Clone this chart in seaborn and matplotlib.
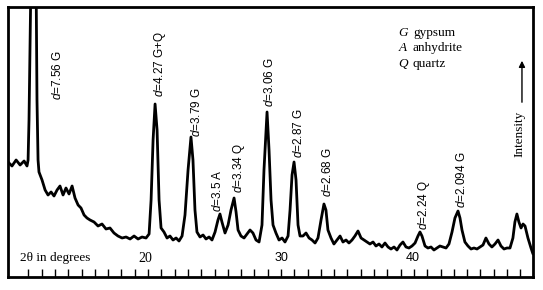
import matplotlib
matplotlib.use("Agg")
import matplotlib.pyplot as plt
import seaborn as sns
import pandas as pd

# 2-theta (degrees) and intensity (arbitrary units)
two_theta = [9.47, 9.77, 10.08, 10.38, 10.68, 10.90, 10.98, 11.05, 11.13, 11.20, 11.35, 11.58,
             11.65, 11.73, 11.80, 12.03, 12.26, 12.48, 12.71, 12.93, 13.16, 13.38, 13.61, 13.83,
             14.06, 14.29, 14.51, 14.74, 14.96, 15.19, 15.41, 15.64, 15.94, 16.24, 16.54, 16.84,
             17.14, 17.44, 17.74, 18.05, 18.35, 18.65, 18.95, 19.25, 19.55, 19.85, 20.08, 20.23,
             20.38, 20.53, 20.68, 20.83, 20.98, 21.20, 21.43, 21.65, 21.88, 22.11, 22.33, 22.56,
             22.78, 23.01, 23.23, 23.38, 23.53, 23.68, 23.91, 24.14, 24.36, 24.59, 24.81, 25.04,
             25.26, 25.41, 25.56, 25.79, 26.02, 26.24, 26.47, 26.62, 26.77, 26.99, 27.22, 27.44,
             27.67, 27.89, 28.12, 28.35, 28.57, 28.72, 28.95, 29.10, 29.25, 29.40, 29.62, 29.85,
             30.08, 30.30, 30.53, 30.68, 30.83, 30.98, 31.13, 31.28, 31.43, 31.65, 31.88, 32.11,
             32.33, 32.56, 32.78, 33.01, 33.23, 33.38, 33.53, 33.76, 33.98, 34.21, 34.44, 34.66,
             34.89, 35.11, 35.34, 35.56, 35.79, 36.02, 36.24, 36.47, 36.69, 36.92, 37.14, 37.37,
             37.59, 37.82, 38.05, 38.27, 38.50, 38.72, 38.95, 39.17, 39.40, 39.62, 39.85, 40.08,
             40.30, 40.45, 40.60, 40.83, 41.05, 41.28, 41.50, 41.73, 41.95, 42.18, 42.41, 42.63,
             42.86, 43.08, 43.31, 43.46, 43.61, 43.83, 44.06, 44.29, 44.51, 44.74, 44.96, 45.19,
             45.41, 45.64, 45.86, 46.09, 46.32, 46.54, 46.77, 46.99, 47.22, 47.44, 47.59, 47.74,
             47.89, 48.05, 48.20, 48.35, 48.57, 48.80, 48.95]
intensity = [115, 111, 117, 112, 116, 111, 117, 157, 237, 300, 330, 300,
             177, 117, 105, 97, 87, 82, 85, 81, 87, 91, 82, 89,
             83, 91, 79, 72, 69, 62, 59, 57, 55, 51, 53, 48,
             49, 44, 41, 39, 40, 38, 41, 38, 40, 39, 43, 77,
             137, 173, 147, 77, 49, 45, 39, 41, 37, 39, 36, 41,
             62, 107, 140, 117, 67, 45, 40, 42, 38, 40, 37, 45,
             57, 63, 55, 44, 52, 67, 79, 65, 47, 41, 39, 43,
             47, 44, 37, 35, 52, 107, 165, 127, 77, 52, 44, 37,
             39, 35, 41, 67, 102, 115, 97, 52, 41, 41, 44, 39,
             37, 34, 39, 57, 73, 67, 47, 39, 33, 37, 41, 35,
             37, 34, 37, 41, 46, 39, 37, 35, 33, 35, 31, 33,
             30, 34, 30, 28, 30, 27, 32, 35, 30, 29, 31, 34,
             41, 45, 41, 31, 29, 30, 27, 29, 31, 30, 29, 33,
             45, 59, 66, 59, 47, 35, 31, 28, 29, 28, 30, 32,
             39, 33, 30, 33, 37, 31, 28, 29, 29, 39, 55, 63,
             55, 49, 53, 51, 39, 29, 23]

# peak labels: (text after italic d, x position, bottom y position)
peak_labels = ["=7.56 G", "=4.27 G+Q", "=3.79 G", "=3.5 A", "=3.34 Q",
               "=3.06 G", "=2.87 G", "=2.68 G", "=2.24 Q", "=2.094 G"]
peak_label_x = [13.16, 20.90, 23.68, 25.26, 26.84, 29.10, 31.28, 33.46, 40.75, 43.61]
peak_label_y = [177, 180, 140, 65, 84, 170, 119, 80, 47, 69]

legend_codes = ["G", "A", "Q"]
legend_names = ["gypsum", "anhydrite", "quartz"]

tick_values = [20, 30, 40]

sns.set_theme(style="white")
plt.rcParams["mathtext.fontset"] = "custom"
plt.rcParams["mathtext.it"] = "Liberation Sans:italic"
plt.rcParams["mathtext.rm"] = "Liberation Sans"

df = pd.DataFrame({"two_theta": two_theta, "intensity": intensity})

fig = plt.figure(figsize=(5.43, 2.90), dpi=100)
ax = fig.add_axes([8 / 543, 13 / 290, 525 / 543, 270 / 290])
sns.lineplot(data=df, x="two_theta", y="intensity", ax=ax, color="black",
             linewidth=2.0, sort=False, estimator=None)

ax.set_xlim(9.47, 48.95)
ax.set_ylim(0, 270)
ax.set_xlabel("")
ax.set_ylabel("")
ax.set_yticks([])
ax.set_xticks(list(range(11, 49)))
ax.tick_params(axis="x", direction="in", length=6, width=1.0, color="black",
               labelbottom=False, bottom=True)
for sp in ax.spines.values():
    sp.set_visible(True)
    sp.set_color("black")
    sp.set_linewidth(2.0)

# peak labels
for lab, x, y in zip(peak_labels, peak_label_x, peak_label_y):
    ax.text(x, y, r"$d$" + lab, rotation=90, ha="center", va="bottom",
            fontsize=8.5, family="Liberation Sans", color="black")

# legend block
legend_y = [244, 229, 213]
for code, name, y in zip(legend_codes, legend_names, legend_y):
    ax.text(39.17, y, code, ha="center", va="center", fontsize=9.5,
            family="Liberation Serif", style="italic", color="black")
    ax.text(39.92, y, name, ha="left", va="center", fontsize=9.5,
            family="Liberation Serif", color="black")

# intensity label and arrow
ax.text(47.97, 120, "Intensity", rotation=90, ha="center", va="bottom",
        fontsize=9.5, family="Liberation Serif", color="black")
ax.annotate("", xy=(48.12, 219), xytext=(48.12, 172),
            arrowprops=dict(arrowstyle="-|>", color="black", lw=1.0,
                            mutation_scale=9))

# axis annotation inside the frame
ax.text(10.38, 19, "2\u03b8 in degrees", ha="left", va="center", fontsize=9.5,
        family="Liberation Serif", color="black")
tick_label_x = [19.77, 30.0, 39.92]
for v, x in zip(tick_values, tick_label_x):
    ax.text(x, 19, str(v), ha="center", va="center",
            fontsize=9 if v != 20 else 10,
            family="Liberation Sans" if v != 20 else "Liberation Serif", color="black")

fig.savefig("out.png", dpi=100, facecolor="white")
